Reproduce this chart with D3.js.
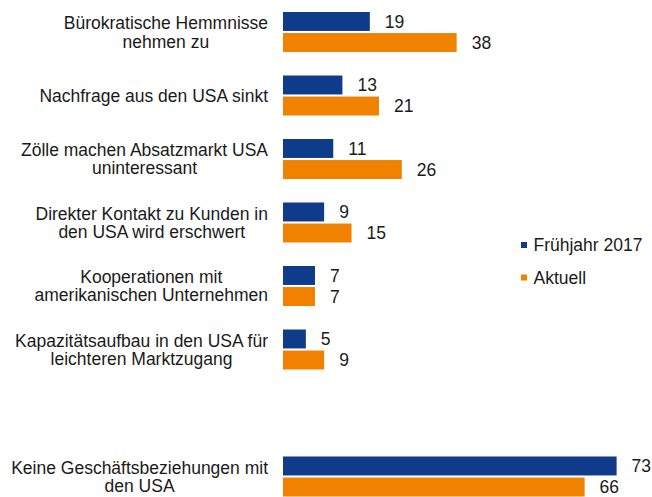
<!DOCTYPE html>
<html>
<head>
<meta charset="utf-8">
<script src="https://cdn.jsdelivr.net/npm/d3@7"></script>
<style>
  body { margin: 0; background: #fff; }
  svg { display: block; font-family: "Liberation Sans", Arial, sans-serif; }
</style>
</head>
<body>
<svg id="chart" width="652" height="497"></svg>
<script>
// data
const categories = [
  'Bürokratische Hemmnisse\nnehmen zu',
  'Nachfrage aus den USA sinkt',
  'Zölle machen Absatzmarkt USA\nuninteressant',
  'Direkter Kontakt zu Kunden in\nden USA wird erschwert',
  'Kooperationen mit\namerikanischen Unternehmen',
  'Kapazitätsaufbau in den USA für\nleichteren Marktzugang',
  '', // empty slot
  'Keine Geschäftsbeziehungen mit\nden USA'
]
const series = ['Frühjahr 2017', 'Aktuell']
const fruehjahr2017 = [19, 13, 11, 9, 7, 5, null, 73]
const aktuell = [38, 21, 26, 15, 7, 9, null, 66]
const colors = ['#0f3b8b', '#f08200']

const rows = categories.map((c, i) => ({
  cat: i,
  label: c,
  values: [fruehjahr2017[i], aktuell[i]]
}))

const svg = d3.select('#chart')

// scales
const x = d3.scaleLinear().domain([0, 100]).range([283, 283 + 457])
const y = d3
  .scaleBand()
  .domain(d3.range(categories.length))
  .range([12, 496.5])
  .paddingInner(0.37)
  .paddingOuter(0)
const ySub = d3
  .scaleBand()
  .domain(d3.range(series.length))
  .range([0, y.bandwidth()])
  .paddingInner(0.1)

const textColor = '#1a1a1a'
const fontSize = '17.5px'

// bars
const groups = svg
  .selectAll('.grp')
  .data(rows.filter((d) => d.label !== ''))
  .enter()
  .append('g')
  .attr('class', 'grp')
  .attr('transform', (d) => 'translate(0,' + y(d.cat) + ')')

groups
  .selectAll('rect')
  .data((d) => d.values.map((v, j) => ({ v: v, s: j })))
  .enter()
  .append('rect')
  .attr('x', x(0))
  .attr('y', (d) => ySub(d.s))
  .attr('width', (d) => x(d.v) - x(0))
  .attr('height', ySub.bandwidth())
  .attr('fill', (d) => colors[d.s])

// value labels
groups
  .selectAll('.val')
  .data((d) => d.values.map((v, j) => ({ v: v, s: j })))
  .enter()
  .append('text')
  .attr('class', 'val')
  .attr('x', (d) => x(d.v) + 15)
  .attr('y', (d) => ySub(d.s) + ySub.bandwidth() / 2)
  .attr('dy', '0.36em')
  .style('font-size', fontSize)
  .style('fill', textColor)
  .text((d) => d.v)

// category labels: right-aligned block, lines centred in it
const labelRight = 268
const lineH = 18.4
groups.each(function (d) {
  const lines = d.label.split('\n')
  const g = d3.select(this)
  const t = g
    .append('text')
    .style('font-size', fontSize)
    .style('fill', textColor)
    .attr('text-anchor', 'middle')
  const mid = y.bandwidth() / 2
  lines.forEach((ln, k) => {
    t.append('tspan')
      .attr('y', mid + (k - (lines.length - 1) / 2) * lineH)
      .attr('dy', '0.36em')
      .text(ln)
  })
  let maxW = 0
  t.selectAll('tspan').each(function () {
    maxW = Math.max(maxW, this.getComputedTextLength())
  })
  t.selectAll('tspan').attr('x', labelRight - maxW / 2)
})

// legend
const legend = svg
  .append('g')
  .selectAll('g')
  .data(series)
  .enter()
  .append('g')
  .attr('transform', (d, i) => 'translate(521,' + (242 + i * 32.5) + ')')

legend
  .append('rect')
  .attr('width', 6)
  .attr('height', 6)
  .attr('fill', (d, i) => colors[i])

legend
  .append('text')
  .attr('x', 12.5)
  .attr('y', 3)
  .attr('dy', '0.36em')
  .style('font-size', fontSize)
  .style('fill', textColor)
  .text((d) => d)
</script>
</body>
</html>
